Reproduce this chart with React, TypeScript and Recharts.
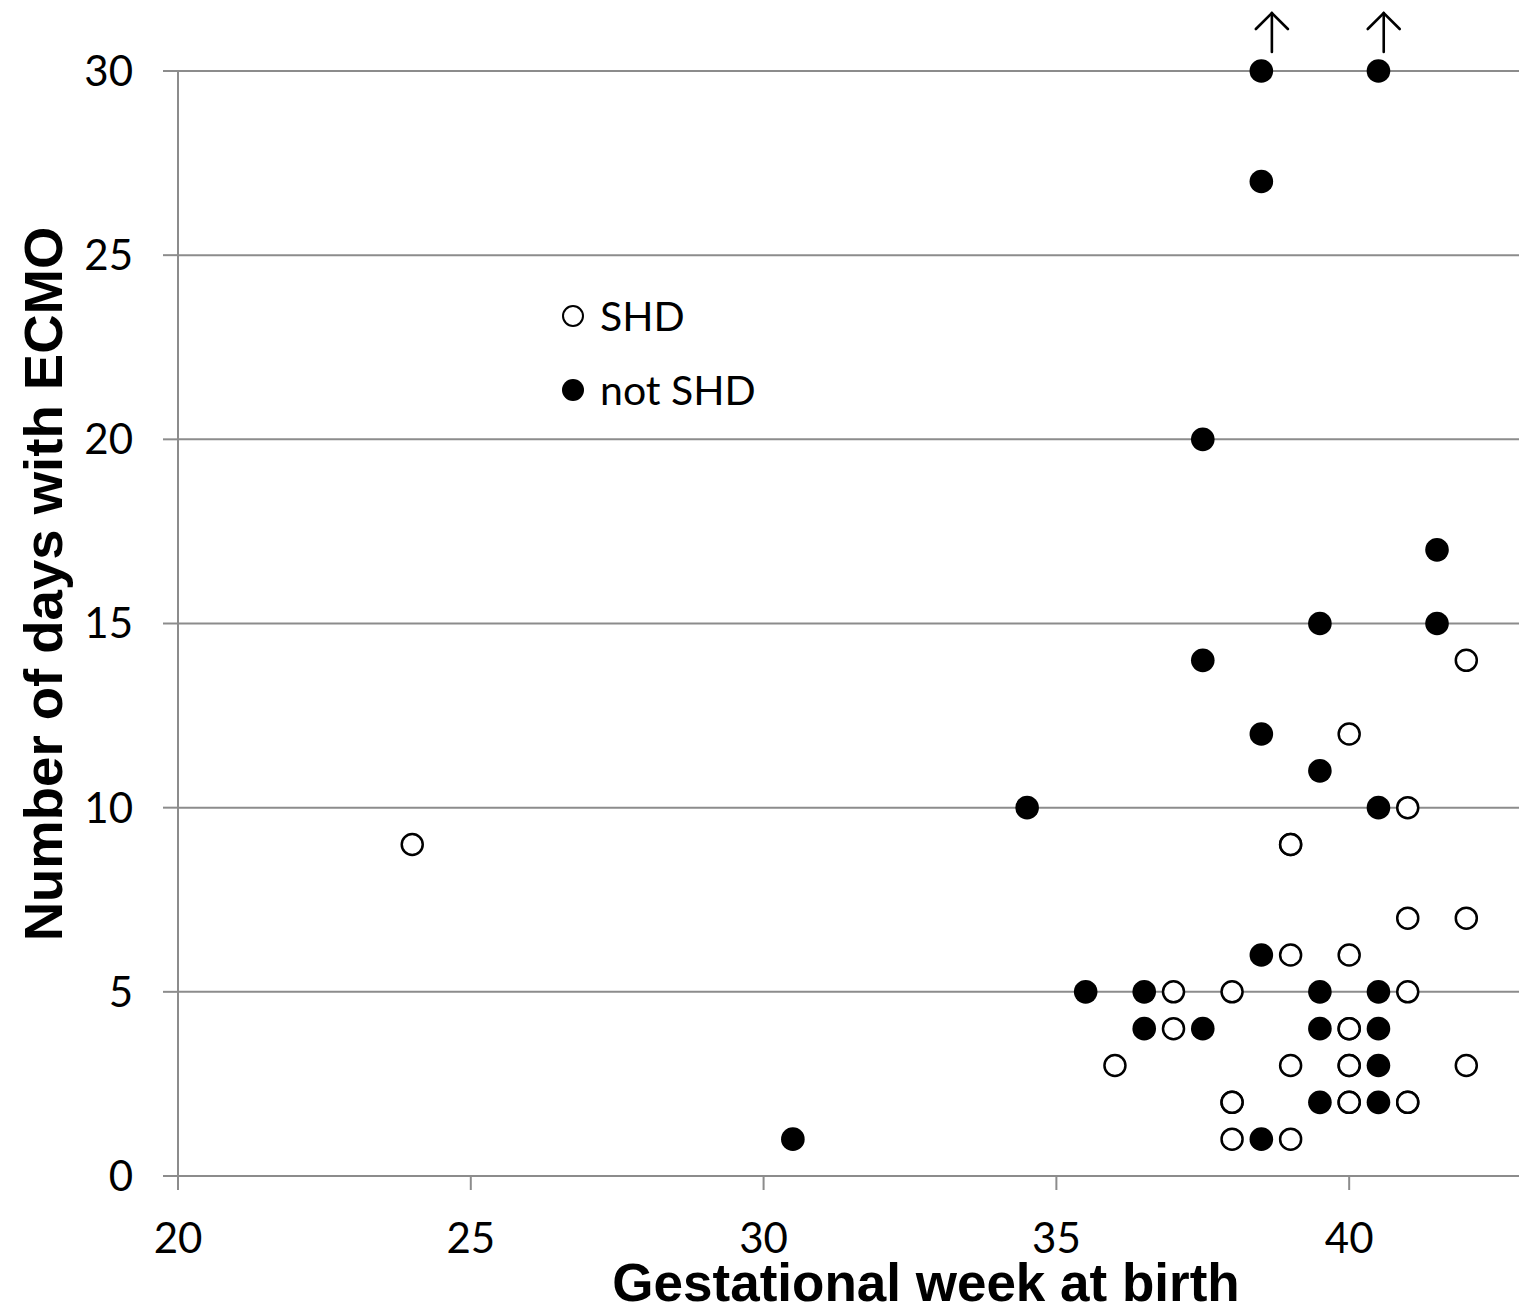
import React from 'react';
import { ScatterChart, Scatter, XAxis, YAxis, CartesianGrid, Legend, Label } from 'recharts';

// SHD (open circles)
const shdWeeks = [24, 36, 37, 37, 38, 38, 38, 38, 39, 39, 39, 39, 39, 40, 40, 40, 40, 40, 40, 40, 40, 41, 41, 41, 41, 41, 42, 42, 42];
const shdDays = [9, 3, 5, 4, 5, 2, 2, 1, 9, 9, 6, 3, 1, 12, 6, 4, 4, 3, 3, 2, 2, 10, 7, 5, 2, 2, 14, 7, 3];

// not SHD (filled circles)
const notShdWeeks = [30.5, 34.5, 35.5, 36.5, 36.5, 37.5, 37.5, 37.5, 38.5, 38.5, 38.5, 38.5, 38.5, 39.5, 39.5, 39.5, 39.5, 39.5, 40.5, 40.5, 40.5, 40.5, 40.5, 40.5, 41.5, 41.5];
const notShdDays = [1, 10, 5, 5, 4, 20, 14, 4, 30, 27, 12, 6, 1, 15, 11, 5, 4, 2, 30, 10, 5, 4, 3, 2, 17, 15];

// "more than 30" arrows over the capped points
const arrowWeeks = [38.68, 40.59];
const arrowDays = [30, 30];

const xTicks = [20, 25, 30, 35, 40];
const yTicks = [0, 5, 10, 15, 20, 25, 30];

const shdData = shdWeeks.map((w, i) => ({ week: w, days: shdDays[i] }));
const notShdData = notShdWeeks.map((w, i) => ({ week: w, days: notShdDays[i] }));
const arrowData = arrowWeeks.map((w, i) => ({ week: w, days: arrowDays[i] }));

const GRID = '#8c8c8c';
const TICK_FONT = 'Lato, "Open Sans", sans-serif';
const TITLE_FONT = '"Liberation Sans", Arial, sans-serif';

const OpenDot = (props: any) => (
  <circle cx={props.cx} cy={props.cy} r={10.5} fill="#fff" stroke="#000" strokeWidth={2.5} />
);

const FilledDot = (props: any) => (
  <circle cx={props.cx} cy={props.cy} r={11.8} fill="#000" />
);

const UpArrow = (props: any) => {
  const { cx, cy } = props;
  return (
    <g stroke="#000" strokeWidth={2.6} fill="none" strokeLinecap="round">
      <line x1={cx} y1={cy - 19} x2={cx} y2={cy - 58} />
      <polyline points={`${cx - 16},${cy - 42} ${cx},${cy - 58} ${cx + 16},${cy - 42}`} />
    </g>
  );
};

const renderLegend = () => (
  <div style={{ fontFamily: TICK_FONT, fontSize: 41, color: '#000', lineHeight: '74px' }}>
    <div style={{ display: 'flex', alignItems: 'center' }}>
      <svg width={28} height={28} style={{ marginRight: 13 }}>
        <circle cx={14} cy={14} r={10} fill="#fff" stroke="#000" strokeWidth={2} />
      </svg>
      <span>SHD</span>
    </div>
    <div style={{ display: 'flex', alignItems: 'center' }}>
      <svg width={28} height={28} style={{ marginRight: 13 }}>
        <circle cx={14} cy={14} r={11} fill="#000" />
      </svg>
      <span>not SHD</span>
    </div>
  </div>
);

const XTitle = () => (
  <text x={926} y={1301} textAnchor="middle" fontFamily={TITLE_FONT} fontWeight="bold" fontSize={53} fill="#000">
    Gestational week at birth
  </text>
);

const YTitle = () => (
  <text transform="translate(62,584) rotate(-90)" textAnchor="middle" fontFamily={TITLE_FONT} fontWeight="bold" fontSize={54.5} fill="#000">
    Number of days with ECMO
  </text>
);

export default function App() {
  return (
    <div style={{ position: 'absolute', left: 0, top: 0, background: '#fff' }}>
      <ScatterChart width={1519} height={1310} margin={{ top: 71, right: 0, bottom: 0, left: 0 }}>
        <CartesianGrid vertical={false} stroke={GRID} strokeWidth={2} />
        <XAxis
          type="number"
          dataKey="week"
          domain={[20, 42.9]}
          ticks={xTicks}
          height={134}
          tickSize={14}
          tickMargin={33}
          axisLine={{ stroke: GRID, strokeWidth: 2 }}
          tickLine={{ stroke: GRID, strokeWidth: 2 }}
          tick={{ fill: '#000', fontSize: 42, fontFamily: TICK_FONT }}
        >
          <Label content={XTitle} />
        </XAxis>
        <YAxis
          type="number"
          dataKey="days"
          domain={[0, 30]}
          ticks={yTicks}
          width={178}
          tickSize={15}
          tickMargin={30}
          axisLine={{ stroke: GRID, strokeWidth: 2 }}
          tickLine={{ stroke: GRID, strokeWidth: 2 }}
          tick={{ fill: '#000', fontSize: 42, fontFamily: TICK_FONT }}
        >
          <Label content={YTitle} />
        </YAxis>
        <Legend
          layout="horizontal"
          align="center"
          verticalAlign="middle"
          content={renderLegend}
          wrapperStyle={{ left: 559, top: 279, width: 'auto' }}
        />
        <Scatter name="not SHD" data={notShdData} shape={FilledDot} isAnimationActive={false} />
        <Scatter name="SHD" data={shdData} shape={OpenDot} isAnimationActive={false} />
        <Scatter name="arrows" data={arrowData} shape={UpArrow} legendType="none" isAnimationActive={false} />
      </ScatterChart>
    </div>
  );
}
